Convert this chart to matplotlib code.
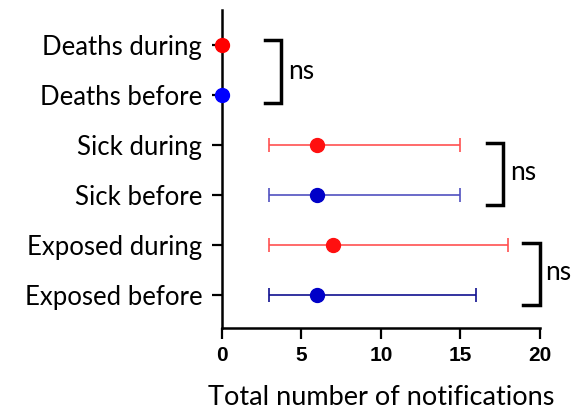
import matplotlib
matplotlib.use("Agg")
import matplotlib.pyplot as plt
import numpy as np

labels = ["Exposed before", "Exposed during", "Sick before", "Sick during",
          "Deaths before", "Deaths during"]
median = [6, 7, 6, 6, 0, 0]
low = [3, 3, 3, 3, 0, 0]
high = [16, 18, 15, 15, 0, 0]
marker_colors = ["#0000c8", "#ff1010", "#0000c8", "#ff1010", "#0000ff", "#ff0000"]
bar_colors = ["#101090", "#ff5050", "#5050c0", "#ff5050", "#0000ff", "#ff0000"]

# brackets: (x left, x right, y top, y bottom, text x, text y)
brackets = [(2.7, 3.75, 5.1, 3.84, 4.2, 4.46),
            (16.7, 17.7, 3.04, 1.8, 18.1, 2.46),
            (18.95, 20.0, 1.04, -0.2, 20.3, 0.46)]

plt.rcParams['font.family'] = ['Lato', 'DejaVu Sans']

fig = plt.figure(figsize=(5.76, 4.16), dpi=100)
ax = fig.add_axes([0.385, 0.2115, 0.5525, 0.7645])

y = np.arange(len(labels))
for i in range(len(labels)):
    if high[i] > low[i]:
        ax.errorbar([median[i]], [y[i]],
                    xerr=[[median[i] - low[i]], [high[i] - median[i]]],
                    fmt='none', ecolor=bar_colors[i], elinewidth=1.2,
                    capsize=5, capthick=1.2, zorder=2)
    ax.plot(median[i], y[i], 'o', color=marker_colors[i], markersize=10,
            clip_on=False, zorder=3)

for (x0, x1, yt, yb, tx, ty) in brackets:
    ax.plot([x0, x1, x1, x0], [yt, yt, yb, yb], color='black', lw=2.5,
            clip_on=False, solid_joinstyle='miter')
    ax.text(tx, ty, "ns", fontsize=19, va='center', ha='left')

ax.set_xlim(0, 20)
ax.set_ylim(-0.66, 5.7)
ax.set_xticks([0, 5, 10, 15, 20])
ax.set_yticks(y)
ax.set_yticklabels(labels, fontsize=18.5)
for t in ax.get_xticklabels():
    t.set_fontweight('bold')
    t.set_fontfamily('Liberation Sans')
    t.set_fontsize(15)
ax.tick_params(axis='both', width=1.6, color='black')
ax.tick_params(axis='y', length=7, pad=7)
ax.tick_params(axis='x', length=8, pad=5)

for s in ['top', 'right']:
    ax.spines[s].set_visible(False)
for s in ['left', 'bottom']:
    ax.spines[s].set_linewidth(1.8)

ax.set_xlabel("Total number of notifications", fontsize=19.5, labelpad=14)

fig.savefig("out.png", dpi=100)
